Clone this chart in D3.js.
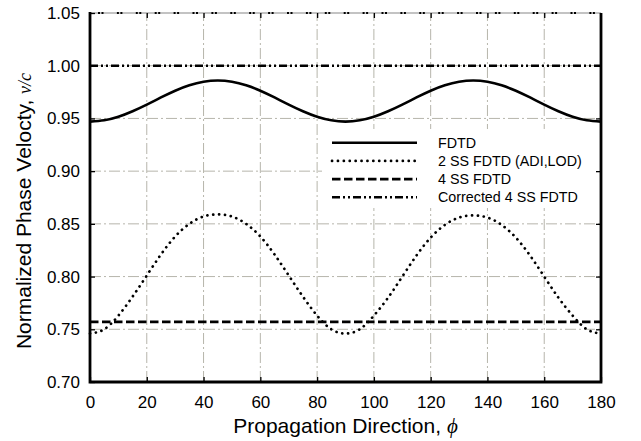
<!DOCTYPE html>
<html>
<head>
<meta charset="utf-8">
<script src="https://cdn.jsdelivr.net/npm/d3@7"></script>
<style>
  body { margin: 0; background: #fff; }
  svg text { font-family: "Liberation Sans", Arial, sans-serif; fill: #000; }
</style>
</head>
<body>
<div id="chart"></div>
<script>
// Propagation angle (degrees)
const phi = [0, 5, 10, 15, 20, 25, 30, 35, 40, 45, 50, 55, 60, 65, 70, 75, 80, 85, 90,
             95, 100, 105, 110, 115, 120, 125, 130, 135, 140, 145, 150, 155, 160, 165, 170, 175, 180];

// Normalized phase velocity for each scheme
const fdtd = [0.9470, 0.9482, 0.9516, 0.9568, 0.9631, 0.9699, 0.9763, 0.9814, 0.9848, 0.9860,
              0.9848, 0.9814, 0.9763, 0.9699, 0.9631, 0.9568, 0.9516, 0.9482, 0.9470,
              0.9482, 0.9516, 0.9568, 0.9631, 0.9699, 0.9763, 0.9814, 0.9848, 0.9860,
              0.9848, 0.9814, 0.9763, 0.9699, 0.9631, 0.9568, 0.9516, 0.9482, 0.9470];
const ss2 = [0.746, 0.750, 0.763, 0.781, 0.801, 0.821, 0.838, 0.850, 0.857, 0.859,
             0.857, 0.850, 0.838, 0.821, 0.801, 0.781, 0.763, 0.750, 0.746,
             0.750, 0.763, 0.780, 0.800, 0.820, 0.837, 0.849, 0.856, 0.858,
             0.856, 0.849, 0.837, 0.820, 0.800, 0.780, 0.763, 0.750, 0.746];
const phiFlat = [0, 180];
const ss4 = [0.757, 0.757];
const ss4corr = [1.000, 1.000];

const legendLabels = ["FDTD", "2 SS FDTD (ADI,LOD)", "4 SS FDTD", "Corrected 4 SS FDTD"];
const xTicks = [0, 20, 40, 60, 80, 100, 120, 140, 160, 180];
const yTicks = [0.70, 0.75, 0.80, 0.85, 0.90, 0.95, 1.00, 1.05];

const width = 641, height = 441;
const margin = { top: 13, right: 40, bottom: 59, left: 90 };

const svg = d3.select("#chart").append("svg")
    .attr("width", width)
    .attr("height", height);

const x = d3.scaleLinear().domain([0, 180]).range([margin.left, width - margin.right]);
const y = d3.scaleLinear().domain([0.70, 1.05]).range([height - margin.bottom, margin.top]);

// Grid lines (dash-dot, light gray)
const gridColor = "#b6b5ab";
svg.append("g").selectAll("line")
    .data(xTicks.slice(1, -1))
    .enter().append("line")
    .attr("x1", d => x(d)).attr("x2", d => x(d))
    .attr("y1", y(0.70)).attr("y2", y(1.05))
    .attr("stroke", gridColor).attr("stroke-width", 1)
    .attr("stroke-dasharray", "11,3,2,3");
svg.append("g").selectAll("line")
    .data(yTicks.slice(1, -1))
    .enter().append("line")
    .attr("x1", x(0)).attr("x2", x(180))
    .attr("y1", d => y(d)).attr("y2", d => y(d))
    .attr("stroke", gridColor).attr("stroke-width", 1)
    .attr("stroke-dasharray", "11,3,2,3");

// Line generator
const line = d3.line()
    .x(d => x(d[0]))
    .y(d => y(d[1]))
    .curve(d3.curveNatural);

// 4 SS FDTD (dashed)
svg.append("path")
    .datum(d3.zip(phiFlat, ss4))
    .attr("fill", "none").attr("stroke", "#000").attr("stroke-width", 2.6)
    .attr("stroke-dasharray", "8.5,3.5")
    .attr("d", line);

// Corrected 4 SS FDTD (dash-dot-dot)
svg.append("path")
    .datum(d3.zip(phiFlat, ss4corr))
    .attr("fill", "none").attr("stroke", "#000").attr("stroke-width", 2.6)
    .attr("stroke-dasharray", "8,3,2,3,2,3")
    .attr("d", line);

// 2 SS FDTD (dotted)
svg.append("path")
    .datum(d3.zip(phi, ss2))
    .attr("fill", "none").attr("stroke", "#000").attr("stroke-width", 2.7)
    .attr("stroke-linecap", "round")
    .attr("stroke-dasharray", "0.1,5.8")
    .attr("d", line);

// FDTD (solid)
svg.append("path")
    .datum(d3.zip(phi, fdtd))
    .attr("fill", "none").attr("stroke", "#000").attr("stroke-width", 2.6)
    .attr("d", line);

// Legend (white box, no border)
const legend = svg.append("g");
legend.append("rect")
    .attr("x", 322).attr("y", 129)
    .attr("width", x(180) - 323).attr("height", 79)
    .attr("fill", "#fff");
const styles = [
    { dash: null, width: 2.6, cap: "butt" },
    { dash: "0.1,5.8", width: 2.7, cap: "round" },
    { dash: "8.5,3.5", width: 2.6, cap: "butt" },
    { dash: "8,3,2,3,2,3", width: 2.6, cap: "butt" }
];
legendLabels.forEach((label, i) => {
    const yy = 142.7 + i * 18.2;
    legend.append("line")
        .attr("x1", 332).attr("x2", 417)
        .attr("y1", yy).attr("y2", yy)
        .attr("stroke", "#000").attr("stroke-width", styles[i].width)
        .attr("stroke-linecap", styles[i].cap)
        .attr("stroke-dasharray", styles[i].dash);
    legend.append("text")
        .attr("x", 438).attr("y", yy)
        .attr("dy", "0.35em")
        .style("font-size", "14.3px")
        .text(label);
});

// Top border: thin line with dash-dot-dot overlay
svg.append("line")
    .attr("x1", x(0)).attr("x2", x(180))
    .attr("y1", y(1.05)).attr("y2", y(1.05))
    .attr("stroke", "#888").attr("stroke-width", 1.2);
svg.append("line")
    .attr("x1", x(0) + 8).attr("x2", x(180))
    .attr("y1", y(1.05)).attr("y2", y(1.05))
    .attr("stroke", "#000").attr("stroke-width", 2)
    .attr("stroke-dasharray", "2,1.5,2,13.4");

// Axes with inward ticks
svg.append("g")
    .attr("transform", `translate(0,${y(0.70)})`)
    .call(d3.axisBottom(x).tickValues(xTicks).tickSizeInner(-5).tickSizeOuter(0).tickPadding(14))
    .call(g => g.select(".domain").remove())
    .selectAll("text").style("font-size", "17px");

svg.append("g")
    .attr("transform", `translate(${x(0)},0)`)
    .call(d3.axisLeft(y).tickValues(yTicks).tickSizeInner(-5).tickSizeOuter(0).tickPadding(10)
        .tickFormat(d3.format(".2f")))
    .call(g => g.select(".domain").remove())
    .selectAll("text").style("font-size", "17px");

svg.append("g")
    .attr("transform", `translate(0,${y(1.05)})`)
    .call(d3.axisTop(x).tickValues(xTicks.slice(1, -1)).tickSizeInner(-5).tickSizeOuter(0).tickFormat(""))
    .call(g => g.select(".domain").remove());

svg.append("g")
    .attr("transform", `translate(${x(180)},0)`)
    .call(d3.axisRight(y).tickValues(yTicks.slice(1, -1)).tickSizeInner(-5).tickSizeOuter(0).tickFormat(""))
    .call(g => g.select(".domain").remove());

svg.selectAll(".tick line").attr("stroke", "#000").attr("stroke-width", 1.3);

// Thick frame on left, bottom, right
svg.append("path")
    .attr("d", `M${x(0)},${y(1.05) - 1}V${y(0.70)}H${x(180)}V${y(1.05)}`)
    .attr("fill", "none").attr("stroke", "#000").attr("stroke-width", 2.8);

// Axis titles
const xTitle = svg.append("text")
    .attr("text-anchor", "middle")
    .attr("x", (x(0) + x(180)) / 2)
    .attr("y", 433)
    .style("font-size", "21px");
xTitle.append("tspan").text("Propagation Direction, ");
xTitle.append("tspan")
    .style("font-family", "'Liberation Serif', serif")
    .style("font-style", "italic")
    .text("\u03d5");

const yTitle = svg.append("text")
    .attr("text-anchor", "middle")
    .attr("transform", "translate(30.5,211) rotate(-90)")
    .style("font-size", "21px");
yTitle.append("tspan").text("Normalized Phase Velocty, ");
yTitle.append("tspan")
    .style("font-family", "'Liberation Serif', serif")
    .style("font-style", "italic")
    .style("font-size", "18px")
    .text("v/c");
</script>
</body>
</html>
